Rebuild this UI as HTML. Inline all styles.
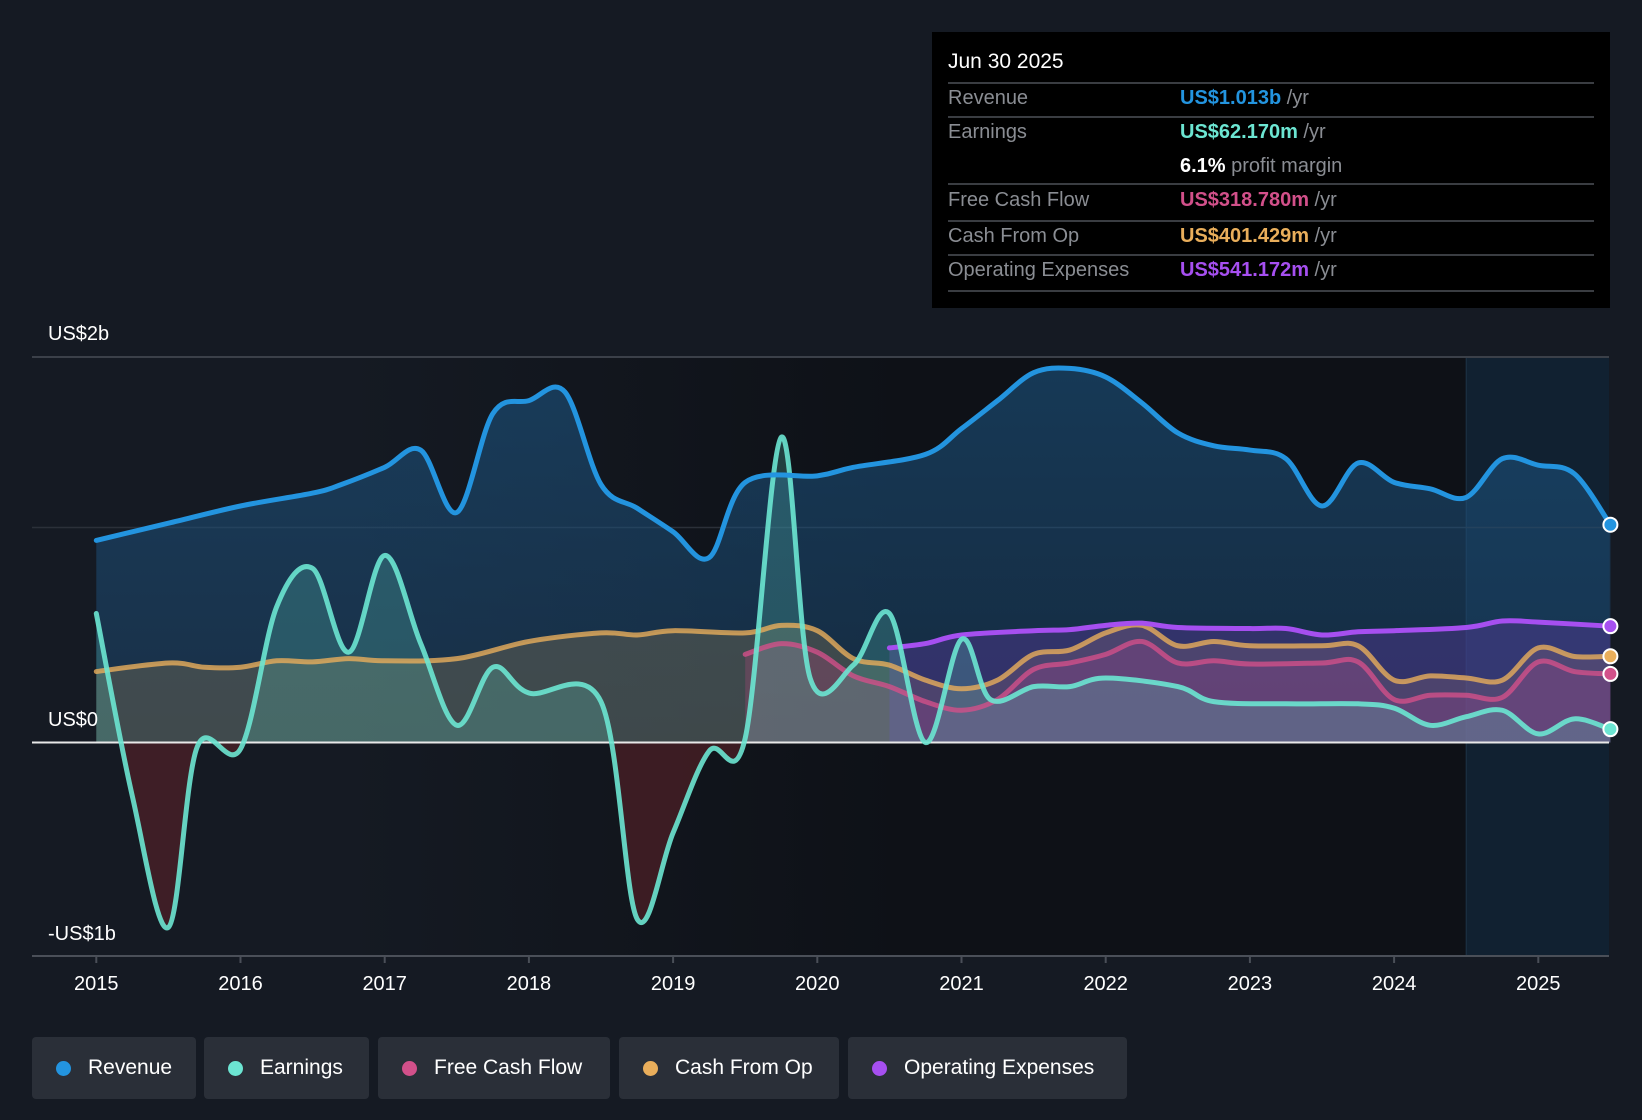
<!DOCTYPE html>
<html><head><meta charset="utf-8">
<style>
body{margin:0;width:1642px;height:1120px;background:#151a23;font-family:"Liberation Sans",sans-serif;overflow:hidden;position:relative}
.tip{position:absolute;left:932px;top:32px;width:678px;height:276px;background:#000;color:#8a8d93;font-size:20px}
.tip div{position:absolute}
.tip span{font-weight:bold}
.ln{left:16px;width:646px;height:2px;background:#3a3d42}
.legend{position:absolute;top:1037px;height:62px;background:#2a2f38;border-radius:4px;color:#fff;font-size:21px;line-height:62px;box-sizing:border-box;padding-left:56px}
.legend i{position:absolute;left:24px;top:24px;width:15px;height:15px;border-radius:50%}
</style></head><body>
<svg id="chart" width="1642" height="1120" style="position:absolute;left:0;top:0"></svg>
<div class="tip">
<div style="left:16px;top:18px;color:#fff;font-size:21px">Jun 30 2025</div>
<div class="ln" style="top:50px"></div>
<div style="left:16px;top:55px">Revenue</div><div style="left:248px;top:55px"><span style="color:#2394df">US$1.013b</span> /yr</div>
<div class="ln" style="top:84px"></div>
<div style="left:16px;top:89px">Earnings</div><div style="left:248px;top:89px"><span style="color:#6ce5d2">US$62.170m</span> /yr</div>
<div style="left:248px;top:123px"><span style="color:#fff">6.1%</span> profit margin</div>
<div class="ln" style="top:151px"></div>
<div style="left:16px;top:157px">Free Cash Flow</div><div style="left:248px;top:157px"><span style="color:#d2508a">US$318.780m</span> /yr</div>
<div class="ln" style="top:188px"></div>
<div style="left:16px;top:193px">Cash From Op</div><div style="left:248px;top:193px"><span style="color:#e9ae5b">US$401.429m</span> /yr</div>
<div class="ln" style="top:222px"></div>
<div style="left:16px;top:227px">Operating Expenses</div><div style="left:248px;top:227px"><span style="color:#a64ff0">US$541.172m</span> /yr</div>
<div class="ln" style="top:258px"></div>
</div>
<div class="legend" style="left:32px;width:164px"><i style="background:#2394df"></i>Revenue</div>
<div class="legend" style="left:204px;width:165px"><i style="background:#6ce5d2"></i>Earnings</div>
<div class="legend" style="left:378px;width:232px"><i style="background:#d2508a"></i>Free Cash Flow</div>
<div class="legend" style="left:619px;width:220px"><i style="background:#e9ae5b"></i>Cash From Op</div>
<div class="legend" style="left:848px;width:279px"><i style="background:#a64ff0"></i>Operating Expenses</div>
<script>
const revT=[2015,2015.5,2016,2016.5,2016.7,2017,2017.25,2017.5,2017.75,2018,2018.25,2018.5,2018.75,2019,2019.25,2019.5,2020,2020.25,2020.75,2021,2021.25,2021.5,2021.75,2022,2022.25,2022.5,2022.75,2023,2023.25,2023.5,2023.75,2024,2024.25,2024.5,2024.75,2025,2025.25,2025.5];
const revV=[0.94,1.02,1.10,1.16,1.20,1.28,1.36,1.07,1.53,1.59,1.63,1.20,1.09,0.98,0.86,1.21,1.24,1.28,1.34,1.46,1.59,1.72,1.74,1.70,1.58,1.44,1.38,1.36,1.32,1.10,1.30,1.21,1.18,1.14,1.32,1.29,1.25,1.013];
const earnT=[2015,2015.25,2015.5,2015.7,2016,2016.25,2016.5,2016.75,2017,2017.25,2017.5,2017.75,2018,2018.5,2018.75,2019,2019.25,2019.5,2019.75,2019.95,2020.25,2020.5,2020.75,2021,2021.2,2021.5,2021.75,2022,2022.5,2022.75,2023.25,2023.75,2024,2024.25,2024.5,2024.75,2025,2025.25,2025.5];
const earnV=[0.60,-0.25,-0.86,-0.02,-0.03,0.63,0.81,0.42,0.87,0.46,0.08,0.35,0.23,0.19,-0.82,-0.42,-0.04,0.02,1.42,0.30,0.36,0.60,0.0,0.48,0.20,0.26,0.26,0.30,0.26,0.19,0.18,0.18,0.16,0.08,0.12,0.15,0.04,0.11,0.062];
const cfoT=[2015,2015.5,2015.75,2016,2016.25,2016.5,2016.75,2017,2017.5,2018,2018.5,2018.75,2019,2019.5,2019.75,2020,2020.25,2020.5,2020.75,2021,2021.25,2021.5,2021.75,2022,2022.25,2022.5,2022.75,2023,2023.5,2023.75,2024,2024.25,2024.5,2024.75,2025,2025.25,2025.5];
const cfoV=[0.33,0.37,0.35,0.35,0.38,0.375,0.39,0.38,0.39,0.47,0.51,0.50,0.52,0.51,0.545,0.52,0.39,0.36,0.29,0.25,0.29,0.41,0.43,0.51,0.545,0.45,0.47,0.45,0.45,0.45,0.29,0.31,0.30,0.29,0.44,0.40,0.401];
const fcfT=[2019.5,2019.75,2020,2020.25,2020.5,2020.75,2021,2021.25,2021.5,2021.75,2022,2022.25,2022.5,2022.75,2023,2023.5,2023.75,2024,2024.25,2024.5,2024.75,2025,2025.25,2025.5];
const fcfV=[0.41,0.46,0.42,0.31,0.26,0.19,0.15,0.20,0.34,0.37,0.41,0.47,0.37,0.38,0.365,0.37,0.375,0.20,0.22,0.22,0.21,0.375,0.33,0.319];
const opxT=[2020.5,2020.75,2021,2021.5,2021.75,2022,2022.25,2022.5,2023,2023.25,2023.5,2023.75,2024,2024.5,2024.75,2025,2025.5];
const opxV=[0.44,0.46,0.50,0.52,0.525,0.545,0.555,0.535,0.53,0.53,0.50,0.515,0.52,0.535,0.565,0.56,0.541];
const xTicks=[2015,2016,2017,2018,2019,2020,2021,2022,2023,2024,2025];
const yLabels=["US$2b","US$0","-US$1b"];

const NS="http://www.w3.org/2000/svg";
const svg=document.getElementById('chart');
const X=t=>96.3+(t-2015)*144.2;
const Y=v=>742.5-v*215;
function mk(tag,attrs,parent){const e=document.createElementNS(NS,tag);for(const k in attrs)e.setAttribute(k,attrs[k]);(parent||svg).appendChild(e);return e;}
function pathD(T,V){const p=T.map((t,i)=>[X(t),Y(V[i])]);let d=`M${p[0][0]},${p[0][1]}`;
 for(let i=0;i<p.length-1;i++){const p0=p[i-1]||p[i],p1=p[i],p2=p[i+1],p3=p[i+2]||p2;
  const c1=[p1[0]+(p2[0]-p0[0])/6,p1[1]+(p2[1]-p0[1])/6],c2=[p2[0]-(p3[0]-p1[0])/6,p2[1]-(p3[1]-p1[1])/6];
  d+=`C${c1[0]},${c1[1]} ${c2[0]},${c2[1]} ${p2[0]},${p2[1]}`;}return d;}
const defs=mk('defs',{});
defs.innerHTML=`<linearGradient id="gRev" x1="0" y1="0" x2="0" y2="1"><stop offset="0" stop-color="#1d5a8a" stop-opacity="0.55"/><stop offset="1" stop-color="#1d4a73" stop-opacity="0.45"/></linearGradient>
<linearGradient id="gBg" x1="0" y1="0" x2="1" y2="0"><stop offset="0" stop-color="#151a23"/><stop offset="0.2" stop-color="#151a23"/><stop offset="0.55" stop-color="#0e1117"/><stop offset="1" stop-color="#0e1117"/></linearGradient>
<clipPath id="pos"><rect x="0" y="0" width="1642" height="742.5"/></clipPath><clipPath id="neg"><rect x="0" y="742.5" width="1642" height="400"/></clipPath>`;
const bg=mk('rect',{x:32,y:357,width:1577,height:599,fill:'url(#gBg)'});

const fut=mk('rect',{x:X(2024.5),y:357,width:1609-X(2024.5),height:599,fill:'#13283d',opacity:0.7});

mk('line',{x1:X(2024.5),x2:X(2024.5),y1:357,y2:956,stroke:'#1e3448','stroke-width':1});
mk('line',{x1:32,x2:1609,y1:357,y2:357,stroke:'#3b4049','stroke-width':2});
mk('line',{x1:32,x2:1609,y1:Y(1),y2:Y(1),stroke:'#2b3039','stroke-width':1.5});
mk('line',{x1:32,x2:1609,y1:956,y2:956,stroke:'#4a4f58','stroke-width':2});
function area(T,V,fill,op,name,clip){const d=pathD(T,V)+`L${X(T[T.length-1])},${Y(0)}L${X(T[0])},${Y(0)}Z`;
 const a=mk('path',{d:d,fill:fill,'fill-opacity':op});if(clip)a.setAttribute('clip-path',clip);
 }
area(revT,revV,'url(#gRev)',1,'revenue-area');
area(cfoT,cfoV,'#8a7a5a',0.35,'cash-from-op-area');
area(fcfT,fcfV,'#b0467a',0.3,'free-cash-flow-area');
area(opxT,opxV,'#6a3cb0',0.35,'operating-expenses-area');
area(earnT,earnV,'#5cc7b8',0.25,'earnings-area-positive','url(#pos)');
area(earnT,earnV,'#5a2128',0.6,'earnings-area-negative','url(#neg)');
mk('line',{x1:32,x2:1609,y1:Y(0),y2:Y(0),stroke:'#e8e8e8','stroke-width':2});
function line(T,V,col,name,op){const l=mk('path',{d:pathD(T,V),fill:'none',stroke:col,'stroke-width':5,'stroke-linecap':'round','stroke-opacity':op||1});
 
 const c=mk('circle',{cx:X(T[T.length-1]),cy:Y(V[V.length-1]),r:7,fill:col,stroke:'#fff','stroke-width':2});
 }
line(cfoT,cfoV,'#e9ae5b','cash-from-op-line',0.8);
line(fcfT,fcfV,'#d2508a','free-cash-flow-line',0.8);
line(opxT,opxV,'#a64ff0','operating-expenses-line');
line(earnT,earnV,'#6ce5d2','earnings-line',0.9);
line(revT,revV,'#2394df','revenue-line');
xTicks.forEach(t=>{mk('line',{x1:X(t),x2:X(t),y1:956,y2:963,stroke:'#4a4f58','stroke-width':2});
 const tx=mk('text',{x:X(t),y:990,fill:'#fff','font-size':20,'text-anchor':'middle','font-family':'Liberation Sans, sans-serif'});tx.textContent=t;
 });
[[yLabels[0],340],[yLabels[1],726],[yLabels[2],940]].forEach(([s,y])=>{const tx=mk('text',{x:48,y:y,fill:'#fff','font-size':20,'font-family':'Liberation Sans, sans-serif'});tx.textContent=s;
 });
</script>
</body></html>
